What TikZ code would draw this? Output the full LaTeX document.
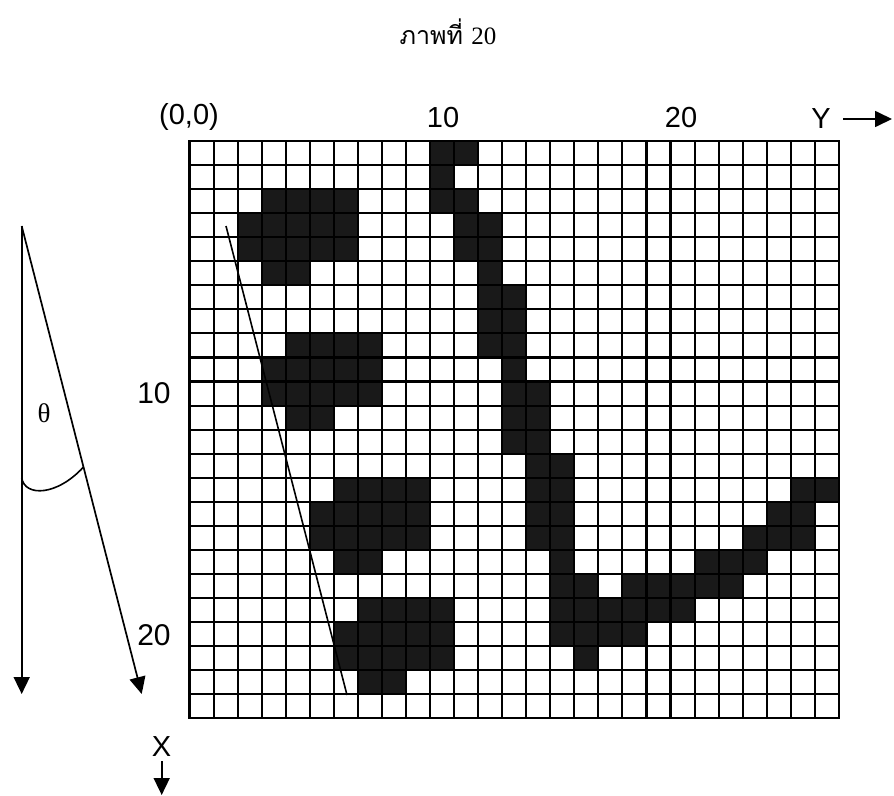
\documentclass[tikz,border=0pt]{standalone}
\usepackage{fontspec}
\setmainfont{Liberation Sans}
\newfontfamily\thaifont[Script=Thai]{Loma}
\newfontfamily\seriffont{Liberation Serif}
\usetikzlibrary{arrows.meta}
\begin{document}
\begin{tikzpicture}[x=1pt,y=-1pt,
  lab/.style={font=\fontsize{29}{31}\selectfont, inner sep=0pt},
  rowlab/.style={font=\fontsize{30}{32}\selectfont, inner sep=0pt},
  cellfill/.style={fill=black!90},
  gridline/.style={line width=2.1pt},
  thinline/.style={line width=1.6pt},
  arr/.style={line width=1.7pt, -{Triangle[length=17pt,width=16pt]}}]
\useasboundingbox (0,0) rectangle (894,795);

% title
\node[inner sep=0pt, anchor=base] (title) at (448,44)
  {\fontsize{25}{28}\selectfont\thaifont ภาพที่ \seriffont 20};

% grid
\begin{scope}[shift={(189.5,141)}, x=24.05pt, y=-24.05pt]
  \foreach \r/\a/\b in {0/10/11, 1/10/10,
     2/3/6, 2/10/11, 3/2/6, 3/11/12, 4/2/6, 4/11/12,
     5/3/4, 5/12/12, 6/12/13, 7/12/13,
     8/4/7, 8/12/13, 9/3/7, 9/13/13, 10/3/7, 10/13/14,
     11/4/5, 11/13/14, 12/13/14, 13/14/15,
     14/6/9, 14/14/15, 14/25/26,
     15/5/9, 15/14/15, 15/24/25,
     16/5/9, 16/14/15, 16/23/25,
     17/6/7, 17/15/15, 17/21/23,
     18/15/16, 18/18/22,
     19/7/10, 19/15/20,
     20/6/10, 20/15/18,
     21/6/10, 21/16/16,
     22/7/8}
    \fill[cellfill] (\a,\r) rectangle (\b+1,\r+1);
  \foreach \i in {0,...,27} \draw[gridline] (\i,0) -- (\i,24);
  \foreach \j in {0,...,24} \draw[gridline] (0,\j) -- (27,\j);
  \draw[gridline, line join=miter] (0,0) rectangle (27,24);
\end{scope}

% line inside the grid
\coordinate (ls) at (226,226);
\coordinate (le) at (347,695);
\draw[thinline] (ls) -- (le);

% column and row labels
\node[lab] (c0) at (189,117) {(0,0)};
\node[lab] (c10) at (443,118) {10};
\node[lab] (c20) at (681,118) {20};
\node[lab] (ylab) at (821,119) {Y};
\coordinate (ya) at (843,119);
\coordinate (yb) at (892,119);
\draw[arr] (ya) -- (yb);
\node[rowlab] (r10) at (154,393) {10};
\node[rowlab] (r20) at (154,635) {20};
\node[lab] (xlab) at (161.5,747) {X};
\coordinate (xa) at (161.7,761);
\coordinate (xb) at (161.7,795);
\draw[arr] (xa) -- (xb);

% angle figure on the left
\coordinate (apex) at (21.7,226);
\coordinate (vt) at (21.7,694);
\coordinate (st) at (141.7,694);
\draw[arr] (apex) -- (vt);
\draw[arr] (apex) -- (st);
\coordinate (arcA) at (21.7,478);
\coordinate (arcB) at (83.5,467);
\draw[thinline] (arcA) .. controls (25,497) and (57,496) .. (arcB);
\node[inner sep=0pt, font=\fontsize{27}{29}\selectfont\seriffont] (theta) at (44,413) {θ};
\end{tikzpicture}
\end{document}
